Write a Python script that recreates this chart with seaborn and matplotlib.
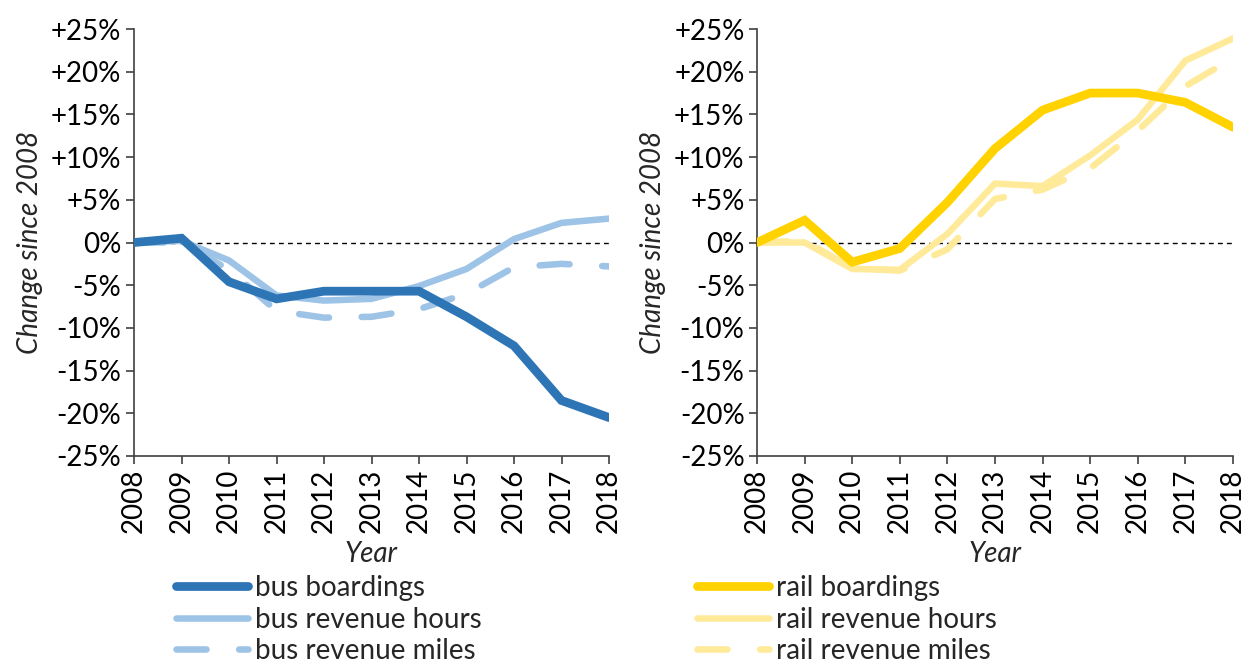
import numpy as np
import pandas as pd
import matplotlib
matplotlib.use("Agg")
import matplotlib.pyplot as plt
import seaborn as sns
from matplotlib.ticker import FuncFormatter, MultipleLocator
from matplotlib.lines import Line2D

years = [2008, 2009, 2010, 2011, 2012, 2013, 2014, 2015, 2016, 2017, 2018]

bus_boardings = [0.0, 0.5, -4.6, -6.6, -5.7, -5.7, -5.7, -8.7, -12.1, -18.5, -20.5]
bus_rev_hours = [0.0, 0.2, -2.1, -6.2, -6.8, -6.6, -5.1, -3.1, 0.4, 2.3, 2.8]
bus_rev_miles = [0.0, 0.0, -3.2, -8.0, -8.8, -8.7, -7.8, -6.0, -2.9, -2.5, -2.8]

rail_boardings = [0.0, 2.6, -2.3, -0.7, 4.7, 11.0, 15.5, 17.5, 17.5, 16.4, 13.5]
rail_rev_hours = [0.0, 0.0, -3.1, -3.2, 1.0, 6.9, 6.6, 10.2, 14.4, 21.3, 23.9]
rail_rev_miles = [0.0, 0.2, -3.0, -3.3, -0.8, 5.1, 6.2, 8.7, 13.1, 18.3, 21.6]

bus_labels = ["bus boardings", "bus revenue hours", "bus revenue miles"]
rail_labels = ["rail boardings", "rail revenue hours", "rail revenue miles"]

BUS_DARK = "#2E75B6"
BUS_LIGHT = "#9DC3E6"
RAIL_DARK = "#FFD200"
RAIL_LIGHT = "#FFEA9A"

sns.set_theme(style="white")
plt.rcParams["font.family"] = ["Lato", "DejaVu Sans"]

fig = plt.figure(figsize=(12.45, 6.66), dpi=100)
W, H = 1245, 666
ax1 = fig.add_axes([134 / W, 1 - 456 / H, 475 / W, 427 / H])
ax2 = fig.add_axes([757 / W, 1 - 456 / H, 476 / W, 427 / H])

FS = 20
LW_DARK = 6.3
LW_LIGHT = 4.7
DASH = (0, (4.6, 5))

def pct(v, pos):
    v = int(round(v))
    if v > 0:
        return f"+{v}%"
    if v < 0:
        return f"-{abs(v)}%"
    return "0%"

def draw(ax, series, labels, dark, light):
    df = pd.DataFrame({"year": years})
    ax.plot([years[0], years[-1]], [0, 0], color="black", lw=1.0,
            linestyle=(0, (3.5, 3)), zorder=1)
    specs = [
        (series[2], labels[2], light, LW_LIGHT, DASH, 2),
        (series[1], labels[1], light, LW_LIGHT, "-", 3),
        (series[0], labels[0], dark, LW_DARK, "-", 4),
    ]
    for vals, lab, col, lw, ls, z in specs:
        d = df.assign(v=vals)
        sns.lineplot(data=d, x="year", y="v", ax=ax, color=col, lw=lw,
                     linestyle=ls, zorder=z, legend=False)
    for l in ax.get_lines():
        l.set_solid_capstyle("round")
        l.set_dash_capstyle("round")
        l.set_solid_joinstyle("miter")
    ax.get_lines()[0].set_dash_capstyle("butt")
    ax.set_xlim(years[0], years[-1])
    ax.set_ylim(-25, 25)
    ax.yaxis.set_major_locator(MultipleLocator(5))
    ax.yaxis.set_major_formatter(FuncFormatter(pct))
    ax.set_xticks(years)
    ax.set_xticklabels([str(y) for y in years], rotation=90)
    for s in ["top", "right"]:
        ax.spines[s].set_visible(False)
    for s in ["left", "bottom"]:
        ax.spines[s].set_color("#404040")
        ax.spines[s].set_linewidth(1.2)
    ax.tick_params(axis="both", which="major", direction="out", length=6,
                   width=1.2, color="#404040", labelsize=FS, pad=3,
                   left=True, bottom=True, labelcolor="black")
    ax.set_xlabel("Year", fontsize=FS, style="italic", labelpad=6)
    ax.set_ylabel("Change since 2008", fontsize=FS, style="italic", labelpad=6)
    ax.grid(False)
    handles = [
        Line2D([0], [0], color=dark, lw=LW_DARK, solid_capstyle="round"),
        Line2D([0], [0], color=light, lw=LW_LIGHT, solid_capstyle="round"),
        Line2D([0], [0], color=light, lw=LW_LIGHT, linestyle=DASH, dash_capstyle="round"),
    ]
    return handles

h1 = draw(ax1, [bus_boardings, bus_rev_hours, bus_rev_miles], bus_labels, BUS_DARK, BUS_LIGHT)
h2 = draw(ax2, [rail_boardings, rail_rev_hours, rail_rev_miles], rail_labels, RAIL_DARK, RAIL_LIGHT)

leg_kw = dict(loc="upper left", frameon=False, fontsize=FS, handlelength=2.6,
              handletextpad=0.25, labelspacing=0.2, borderaxespad=0, borderpad=0)
fig.legend(h1, bus_labels, bbox_to_anchor=(176 / W, 1 - 575 / H), **leg_kw)
fig.legend(h2, rail_labels, bbox_to_anchor=(697 / W, 1 - 575 / H), **leg_kw)

fig.savefig("out.png", dpi=100)
